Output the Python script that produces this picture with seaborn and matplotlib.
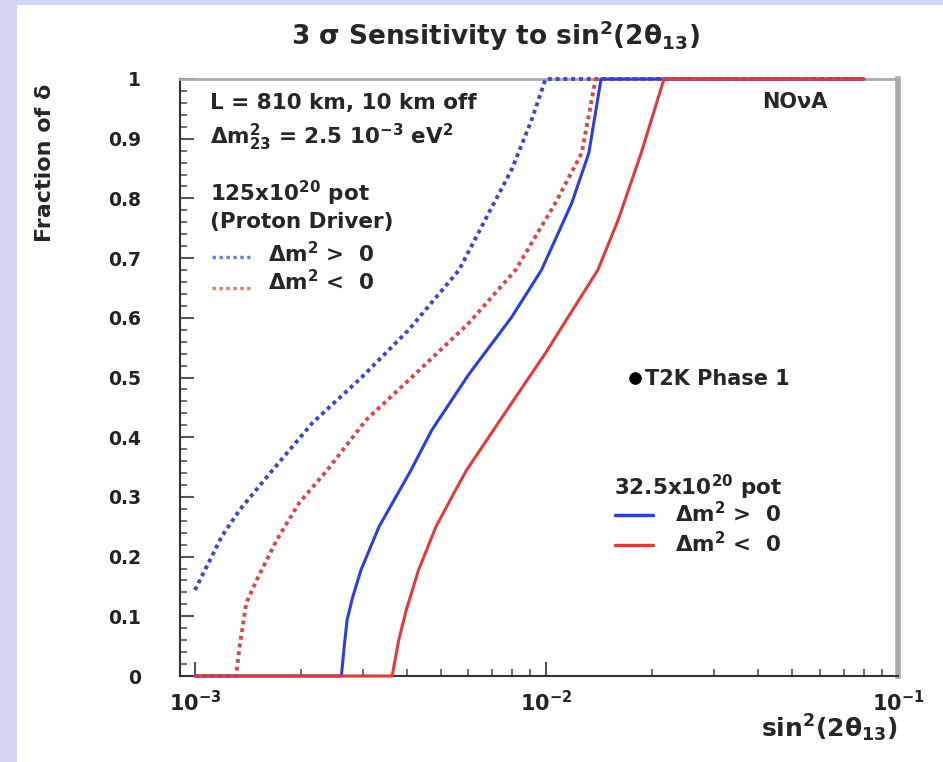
import numpy as np
import pandas as pd
import matplotlib
matplotlib.use("Agg")
import matplotlib.pyplot as plt
import seaborn as sns
from matplotlib.ticker import LogLocator, MultipleLocator, FuncFormatter, NullFormatter
from matplotlib.patches import Rectangle
from matplotlib.lines import Line2D

# ---------------- data ----------------
# NOvA 32.5e20 pot, dm2 > 0 (solid blue)
x_nova_pos = [1.0e-3, 2.61e-3, 2.66e-3, 2.71e-3, 2.81e-3, 2.97e-3, 3.34e-3, 3.73e-3, 4.12e-3,
              4.72e-3, 6.01e-3, 7.96e-3, 9.68e-3, 1.18e-2, 1.32e-2, 1.43e-2, 8.0e-2]
y_nova_pos = [0.0, 0.0, 0.05, 0.094, 0.132, 0.178, 0.25, 0.30, 0.345,
              0.412, 0.505, 0.601, 0.680, 0.792, 0.876, 1.0, 1.0]
# NOvA 32.5e20 pot, dm2 < 0 (solid red)
x_nova_neg = [1.0e-3, 3.64e-3, 3.80e-3, 3.99e-3, 4.33e-3, 4.85e-3, 5.52e-3, 5.93e-3, 7.65e-3,
              9.94e-3, 1.40e-2, 1.60e-2, 1.86e-2, 2.16e-2, 8.0e-2]
y_nova_neg = [0.0, 0.0, 0.06, 0.11, 0.178, 0.25, 0.312, 0.345, 0.442,
              0.541, 0.680, 0.764, 0.876, 1.0, 1.0]
# Proton driver 125e20 pot, dm2 > 0 (dotted blue)
x_pd_pos = [1.0e-3, 1.08e-3, 1.19e-3, 1.34e-3, 1.60e-3, 2.16e-3, 2.99e-3, 4.06e-3,
            5.64e-3, 6.86e-3, 7.96e-3, 9.07e-3, 9.94e-3, 8.0e-2]
y_pd_pos = [0.144, 0.183, 0.233, 0.278, 0.333, 0.424, 0.501, 0.580,
            0.680, 0.776, 0.848, 0.931, 1.0, 1.0]
# Proton driver 125e20 pot, dm2 < 0 (dotted red)
x_pd_neg = [1.0e-3, 1.31e-3, 1.34e-3, 1.40e-3, 1.50e-3, 1.71e-3, 1.98e-3, 2.38e-3,
            3.07e-3, 4.15e-3, 6.01e-3, 8.17e-3, 1.06e-2, 1.26e-2, 1.38e-2, 8.0e-2]
y_pd_neg = [0.0, 0.0, 0.049, 0.122, 0.161, 0.228, 0.290, 0.345,
            0.429, 0.501, 0.591, 0.680, 0.792, 0.876, 1.0, 1.0]
# T2K phase 1 point
t2k_x = [1.79e-2]
t2k_y = [0.50]

y_ticks = [0.0, 0.1, 0.2, 0.3, 0.4, 0.5, 0.6, 0.7, 0.8, 0.9, 1.0]
x_ticks = [1e-3, 1e-2, 1e-1]

# ---------------- style ----------------
sns.set_style("ticks")
plt.rcParams["font.family"] = ["DejaVu Sans"]
plt.rcParams["font.weight"] = "bold"
plt.rcParams["mathtext.fontset"] = "custom"
plt.rcParams["mathtext.rm"] = "DejaVu Sans:bold"
plt.rcParams["mathtext.it"] = "DejaVu Sans:bold"
plt.rcParams["mathtext.bf"] = "DejaVu Sans:bold"
plt.rcParams["mathtext.sf"] = "DejaVu Sans:bold"
plt.rcParams["mathtext.default"] = "rm"

W, H = 943, 762
fig = plt.figure(figsize=(W / 100, H / 100), dpi=100, facecolor="#d3d3f6")
fig.add_artist(Rectangle((17 / W, 0), 1, (H - 5) / H, transform=fig.transFigure,
                         facecolor="white", edgecolor="none", zorder=-10))

AX_L, AX_R, AX_T, AX_B = 180, 898, 79, 676
ax = fig.add_axes([AX_L / W, (H - AX_B) / H, (AX_R - AX_L) / W, (AX_B - AX_T) / H])
ax.set_facecolor("white")


def axc(px, py):
    return ((px - AX_L) / (AX_R - AX_L), (AX_B - py) / (AX_B - AX_T))


BLUE = "#2a3fdc"
RED = "#e23a3a"
BLUE_D = "#3a48c8"
RED_D = "#d84848"

dot = (0, (1, 1))
series = [
    (x_pd_pos, y_pd_pos, BLUE_D, dot, 2.8),
    (x_pd_neg, y_pd_neg, RED_D, dot, 2.8),
    (x_nova_pos, y_nova_pos, BLUE, "-", 2.2),
    (x_nova_neg, y_nova_neg, RED, "-", 2.2),
]
for xs, ys, col, ls, lw in series:
    df = pd.DataFrame({"x": xs, "y": ys})
    sns.lineplot(data=df, x="x", y="y", ax=ax, color=col, linestyle=ls, lw=lw,
                 estimator=None, sort=False, clip_on=False, zorder=3)
for l in ax.get_lines():
    l.set_dash_capstyle("butt")

sns.scatterplot(x=t2k_x, y=t2k_y, ax=ax, color="black", s=70, edgecolor="black",
                zorder=4)

ax.set_xscale("log")
ax.set_xlim(9.07e-4, 0.1)
ax.set_ylim(0, 1)
ax.set_xticks(x_ticks)
ax.xaxis.set_minor_locator(LogLocator(base=10, subs=np.arange(2, 10)))
ax.xaxis.set_minor_formatter(NullFormatter())
ax.set_yticks(y_ticks)
ax.yaxis.set_minor_locator(MultipleLocator(0.02))
ax.yaxis.set_major_formatter(FuncFormatter(lambda v, p: "%g" % v))

ax.tick_params(axis="both", which="major", direction="in", length=10, width=1.5,
               color="#555555", labelsize=13.5, labelcolor="#222222")
ax.tick_params(axis="x", which="major", labelsize=15, pad=10)
ax.tick_params(axis="both", which="minor", direction="in", length=5, width=1.2,
               color="#555555")
ax.tick_params(axis="y", which="major", pad=28)
ax.tick_params(top=False, right=False, which="both")

for side in ["left", "bottom"]:
    ax.spines[side].set_color("#333333")
    ax.spines[side].set_linewidth(1.5)
ax.spines["top"].set_color("#aaaaaa")
ax.spines["top"].set_linewidth(2)
ax.spines["right"].set_color("#aaaaaa")
ax.spines["right"].set_linewidth(4)
ax.spines["top"].set_visible(True)
ax.spines["right"].set_visible(True)

ax.set_xlabel("sin$^{2}$(2θ$_{13}$)", fontsize=18, fontweight="bold", loc="right")
ax.xaxis.set_label_coords(1.0, (AX_B - 728) / (AX_B - AX_T))
ax.xaxis.label.set_va("center")
ax.set_ylabel("Fraction of δ", fontsize=16, fontweight="bold", loc="top")
ax.yaxis.set_label_coords((45 - AX_L) / (AX_R - AX_L), (AX_B - 84) / (AX_B - AX_T))
ax.yaxis.label.set_va("center")

fig.text(495 / W, 1 - 36 / H, "3 σ Sensitivity to sin$^{2}$(2θ$_{13}$)",
         ha="center", va="center", fontsize=19, fontweight="bold")

fs = 15.5
ax.text(*axc(210, 103), "L = 810 km, 10 km off", transform=ax.transAxes,
        fontsize=fs, va="center", ha="left")
ax.text(*axc(210, 137), "Δm$_{23}^{2}$ = 2.5 10$^{-3}$ eV$^{2}$", transform=ax.transAxes,
        fontsize=fs, va="center", ha="left")
ax.text(*axc(210, 193), "125x10$^{20}$ pot", transform=ax.transAxes,
        fontsize=fs, va="center", ha="left")
ax.text(*axc(210, 222), "(Proton Driver)", transform=ax.transAxes,
        fontsize=fs, va="center", ha="left")
ax.text(*axc(268, 254), "Δm$^{2}$ >  0", transform=ax.transAxes,
        fontsize=fs, va="center", ha="left")
ax.text(*axc(268, 282), "Δm$^{2}$ <  0", transform=ax.transAxes,
        fontsize=fs, va="center", ha="left")
for yk, col in [(257, BLUE_D), (288, RED_D)]:
    x0, y0 = axc(212, yk)
    x1, _ = axc(250, yk)
    ax.add_line(Line2D([x0, x1], [y0, y0], transform=ax.transAxes, color=col,
                       lw=2.5, linestyle=dot, dash_capstyle="butt", alpha=0.7))

ax.text(*axc(795, 102), "NOνA", transform=ax.transAxes, fontsize=15,
        va="center", ha="center")
ax.text(*axc(645, 379), "T2K Phase 1", transform=ax.transAxes, fontsize=15,
        va="center", ha="left")

ax.text(*axc(614, 487), "32.5x10$^{20}$ pot", transform=ax.transAxes,
        fontsize=fs, va="center", ha="left")
ax.text(*axc(675, 514), "Δm$^{2}$ >  0", transform=ax.transAxes,
        fontsize=fs, va="center", ha="left")
ax.text(*axc(675, 544), "Δm$^{2}$ <  0", transform=ax.transAxes,
        fontsize=fs, va="center", ha="left")
for yk, col in [(515, BLUE), (545, RED)]:
    x0, y0 = axc(615, yk)
    x1, _ = axc(653, yk)
    ax.add_line(Line2D([x0, x1], [y0, y0], transform=ax.transAxes, color=col, lw=2.5))

fig.savefig("out.png", dpi=100, facecolor=fig.get_facecolor())
